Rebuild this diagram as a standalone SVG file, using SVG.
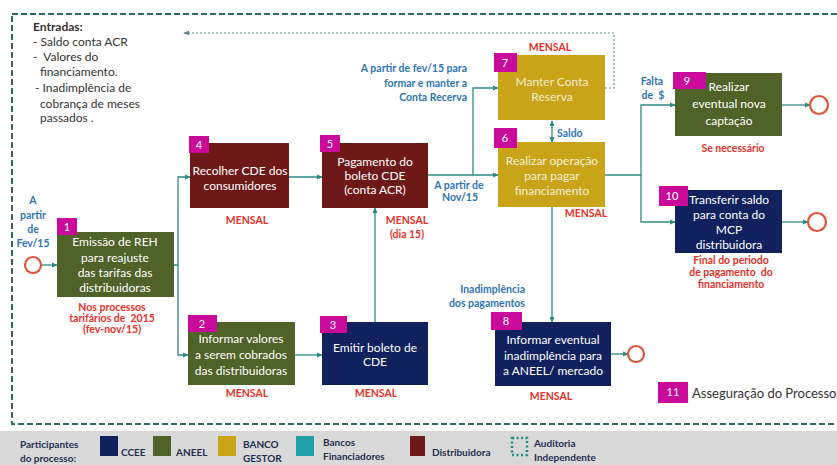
<svg xmlns="http://www.w3.org/2000/svg" width="837" height="465" viewBox="0 0 837 465">
<style>
text{font-family:Lato,"Open Sans","Liberation Sans",sans-serif}
.bt{fill:#fff;font-size:12px;text-anchor:middle}
.bd{fill:#fff;font-size:11px;text-anchor:middle}
.red{fill:#e6322a;font-size:10.5px;font-weight:bold;text-anchor:middle}
.blue{fill:#2e75b6;font-size:10.5px;font-weight:bold}
.green{fill:#4f6228}
.maroon{fill:#6e1818}
.navy{fill:#10215e}
.gold{fill:#c9a318}
.badge{fill:#c90a9a}
.con{fill:none;stroke:#2f8a84;stroke-width:1.3}
.end{fill:none;stroke:#e0553a;stroke-width:2.2}
.ent{fill:#333;font-size:12px}
.leg{fill:#1f2f4f;font-size:10px;font-weight:bold}
</style>
<defs>
<marker id="ah" viewBox="0 0 8 8" refX="7" refY="4" markerWidth="6" markerHeight="6" orient="auto-start-reverse" markerUnits="userSpaceOnUse">
<path d="M0,0.5 L8,4 L0,7.5 z" fill="#2f8a84"/>
</marker>
<marker id="ad" viewBox="0 0 8 8" refX="7" refY="4" markerWidth="6" markerHeight="6" orient="auto" markerUnits="userSpaceOnUse">
<path d="M0,0.5 L8,4 L0,7.5 z" fill="#5f8a90"/>
</marker>
</defs>
<rect x="0" y="0" width="837" height="465" fill="#fff"/>
<rect x="12" y="14" width="845" height="410" fill="none" stroke="#2e6b66" stroke-width="2" stroke-dasharray="6 3"/>

<g id="entradas">
<text class="ent" x="33" y="31" font-weight="bold">Entradas:</text>
<text class="ent" x="33" y="46">- Saldo conta ACR</text>
<text class="ent" x="33" y="61" xml:space="preserve">-  Valores do</text>
<text class="ent" x="40" y="76">financiamento.</text>
<text class="ent" x="35" y="92">- Inadimplência  de</text>
<text class="ent" x="40" y="108">cobrança de meses</text>
<text class="ent" x="40" y="122">passados .</text>
</g>

<g id="connectors">
<path class="con" d="M605,88 H614 V33 H184" stroke="#5f8a90" style="stroke:#5f8a90;stroke-width:1.2;stroke-dasharray:2 2" marker-end="url(#ad)"/>
<path class="con" d="M41,265 H57" marker-end="url(#ah)"/>
<path class="con" d="M174,265 H178 V177 H190" marker-end="url(#ah)"/>
<path class="con" d="M178,265 V355 H188" marker-end="url(#ah)"/>
<path class="con" d="M289,177 H322" marker-end="url(#ah)"/>
<path class="con" d="M295,355 H322" marker-end="url(#ah)"/>
<path class="con" d="M375,322 V208" marker-end="url(#ah)"/>
<path class="con" d="M428,175 H498" marker-end="url(#ah)"/>
<path class="con" d="M473,175 V88 H498" marker-end="url(#ah)"/>
<path class="con" d="M552,121 V142" marker-start="url(#ah)" marker-end="url(#ah)"/>
<path class="con" d="M552,207 V322" marker-end="url(#ah)"/>
<path class="con" d="M605,175 H641 V105 H675" marker-end="url(#ah)"/>
<path class="con" d="M641,175 V222 H675" marker-end="url(#ah)"/>
<path class="con" d="M611,354 H628" marker-end="url(#ah)"/>
<path class="con" d="M782,105 H810" marker-end="url(#ah)"/>
<path class="con" d="M782,222 H808" marker-end="url(#ah)"/>
</g>

<g id="start">
<text class="blue" x="33" y="204" text-anchor="middle">A</text>
<text class="blue" x="33" y="219" text-anchor="middle">partir</text>
<text class="blue" x="33" y="233" text-anchor="middle">de</text>
<text class="blue" x="33" y="247" text-anchor="middle">Fev/15</text>
<circle class="end" cx="33" cy="265" r="8"/>
</g>

<g id="n1">
<rect class="green" x="57" y="232" width="117" height="65"/>
<rect class="badge" x="57" y="218" width="20" height="17"/>
<text class="bd" x="67" y="231">1</text>
<text class="bt" x="115" y="246" font-size="12.5">Emissão de REH</text>
<text class="bt" x="115" y="262" font-size="12.5">para reajuste</text>
<text class="bt" x="115" y="277" font-size="12.5">das tarifas das</text>
<text class="bt" x="115" y="292" font-size="12.5">distribuidoras</text>
<text class="red" x="112" y="311" font-size="10">Nos processos</text>
<text class="red" x="112" y="322" font-size="10" xml:space="preserve">tarifários de  2015</text>
<text class="red" x="112" y="333" font-size="10">(fev-nov/15)</text>
</g>

<g id="n4">
<rect class="maroon" x="190" y="143" width="99" height="65"/>
<rect class="badge" x="189" y="136" width="20" height="17"/>
<text class="bd" x="199" y="149">4</text>
<text class="bt" x="240" y="175">Recolher CDE dos</text>
<text class="bt" x="240" y="190">consumidores</text>
<text class="red" x="247" y="224">MENSAL</text>
</g>

<g id="n5">
<rect class="maroon" x="322" y="143" width="106" height="65"/>
<rect class="badge" x="320" y="135" width="20" height="17"/>
<text class="bd" x="330" y="148">5</text>
<text class="bt" x="375" y="166">Pagamento do</text>
<text class="bt" x="375" y="180">boleto CDE</text>
<text class="bt" x="375" y="194">(conta ACR)</text>
<text class="red" x="407" y="224">MENSAL</text>
<text class="red" x="407" y="238">(dia 15)</text>
</g>

<g id="n2">
<rect class="green" x="188" y="322" width="107" height="63"/>
<rect class="badge" x="188" y="315" width="29" height="17"/>
<text class="bd" x="202" y="328">2</text>
<text class="bt" x="241" y="343">Informar valores</text>
<text class="bt" x="241" y="359">a serem cobrados</text>
<text class="bt" x="241" y="375">das distribuidoras</text>
<text class="red" x="247" y="397">MENSAL</text>
</g>

<g id="n3">
<rect class="navy" x="322" y="322" width="106" height="63"/>
<rect class="badge" x="320" y="316" width="27" height="17"/>
<text class="bd" x="333" y="329">3</text>
<text class="bt" x="375" y="352">Emitir boleto de</text>
<text class="bt" x="375" y="366">CDE</text>
<text class="red" x="376" y="397">MENSAL</text>
</g>

<g id="n7">
<text class="red" x="550" y="51">MENSAL</text>
<rect class="gold" x="498" y="55" width="107" height="65"/>
<rect class="badge" x="494" y="53" width="23" height="19"/>
<text class="bd" x="505" y="67" font-size="12">7</text>
<text class="bt" x="552" y="86" fill="#f3ecd0" style="fill:#f3ecd0">Manter Conta</text>
<text class="bt" x="552" y="101" style="fill:#f3ecd0">Reserva</text>
<text class="blue" x="467" y="72" text-anchor="end">A partir de fev/15 para</text>
<text class="blue" x="467" y="87" text-anchor="end">formar e manter a</text>
<text class="blue" x="467" y="101" text-anchor="end">Conta Recerva</text>
</g>

<g id="n6">
<rect class="gold" x="498" y="142" width="107" height="65"/>
<rect class="badge" x="494" y="128" width="23" height="20"/>
<text class="bd" x="505" y="142" font-size="12">6</text>
<text class="bt" x="552" y="165" style="fill:#f6f0d8">Realizar operação</text>
<text class="bt" x="552" y="180" style="fill:#f6f0d8">para pagar</text>
<text class="bt" x="552" y="195" style="fill:#f6f0d8">financiamento</text>
<text class="red" x="586" y="217">MENSAL</text>
<text class="blue" x="557" y="137" font-size="11">Saldo</text>
<text class="blue" x="459" y="189" text-anchor="middle">A partir de</text>
<text class="blue" x="460" y="201" text-anchor="middle">Nov/15</text>
</g>

<g id="n8">
<rect class="navy" x="495" y="322" width="116" height="64"/>
<rect class="badge" x="491" y="312" width="31" height="18"/>
<text class="bd" x="506" y="325">8</text>
<text class="bt" x="553" y="344">Informar eventual</text>
<text class="bt" x="553" y="360">inadimplência para</text>
<text class="bt" x="553" y="375">a ANEEL/ mercado</text>
<text class="red" x="551" y="400">MENSAL</text>
<text class="blue" x="525" y="293" text-anchor="end">Inadimplência</text>
<text class="blue" x="525" y="307" text-anchor="end">dos pagamentos</text>
<circle class="end" cx="636" cy="354" r="8"/>
</g>

<g id="n9">
<rect class="green" x="675" y="73" width="107" height="63"/>
<rect class="badge" x="673" y="72" width="33" height="17"/>
<text class="bd" x="687" y="85">9</text>
<text class="bt" x="729" y="91">Realizar</text>
<text class="bt" x="729" y="108">eventual nova</text>
<text class="bt" x="729" y="125">captação</text>
<text class="red" x="733" y="152">Se necessário</text>
<text class="blue" x="652" y="85" text-anchor="middle">Falta</text>
<text class="blue" x="653" y="99" text-anchor="middle" xml:space="preserve">de  $</text>
<circle class="end" cx="819" cy="105" r="9"/>
</g>

<g id="n10">
<rect class="navy" x="675" y="190" width="107" height="63"/>
<rect class="badge" x="659" y="186" width="29" height="20"/>
<text class="bd" x="672" y="200">10</text>
<text class="bt" x="729" y="204">Transferir saldo</text>
<text class="bt" x="729" y="219">para conta do</text>
<text class="bt" x="729" y="234">MCP</text>
<text class="bt" x="729" y="249">distribuidora</text>
<text class="red" x="731" y="264" font-size="10">Final do periodo</text>
<text class="red" x="731" y="276" font-size="10" xml:space="preserve">de pagamento  do</text>
<text class="red" x="731" y="288" font-size="10">financiamento</text>
<circle class="end" cx="817" cy="222" r="9"/>
</g>

<g id="n11">
<rect class="badge" x="658" y="382" width="30" height="21"/>
<text class="bd" x="673" y="396" font-size="10">11</text>
<text x="692" y="398" font-size="13" fill="#333">Asseguração do Processo</text>
</g>

<g id="legend">
<rect x="0" y="431" width="837" height="34" fill="#d9d9d9"/>
<text class="leg" x="20" y="448" font-size="11">Participantes</text>
<text class="leg" x="20" y="462" font-size="11">do processo:</text>
<rect class="navy" x="100" y="436" width="18" height="20"/>
<text class="leg" x="121" y="456">CCEE</text>
<rect class="green" x="153" y="436" width="18" height="20"/>
<text class="leg" x="176" y="456">ANEEL</text>
<rect class="gold" x="218" y="436" width="18" height="20"/>
<text class="leg" x="243" y="448">BANCO</text>
<text class="leg" x="243" y="462">GESTOR</text>
<rect x="296" y="436" width="18" height="20" fill="#22a0a8"/>
<text class="leg" x="323" y="446" font-weight="600">Bancos</text>
<text class="leg" x="323" y="460" font-weight="600">Financiadores</text>
<rect class="maroon" x="410" y="436" width="15" height="20"/>
<text class="leg" x="432" y="456">Distribuidora</text>
<rect x="512" y="438" width="15" height="17" fill="none" stroke="#1f8c84" stroke-width="2.5" stroke-dasharray="2 2.5"/>
<text class="leg" x="534" y="447">Auditoria</text>
<text class="leg" x="534" y="461">Independente</text>
</g>
</svg>
